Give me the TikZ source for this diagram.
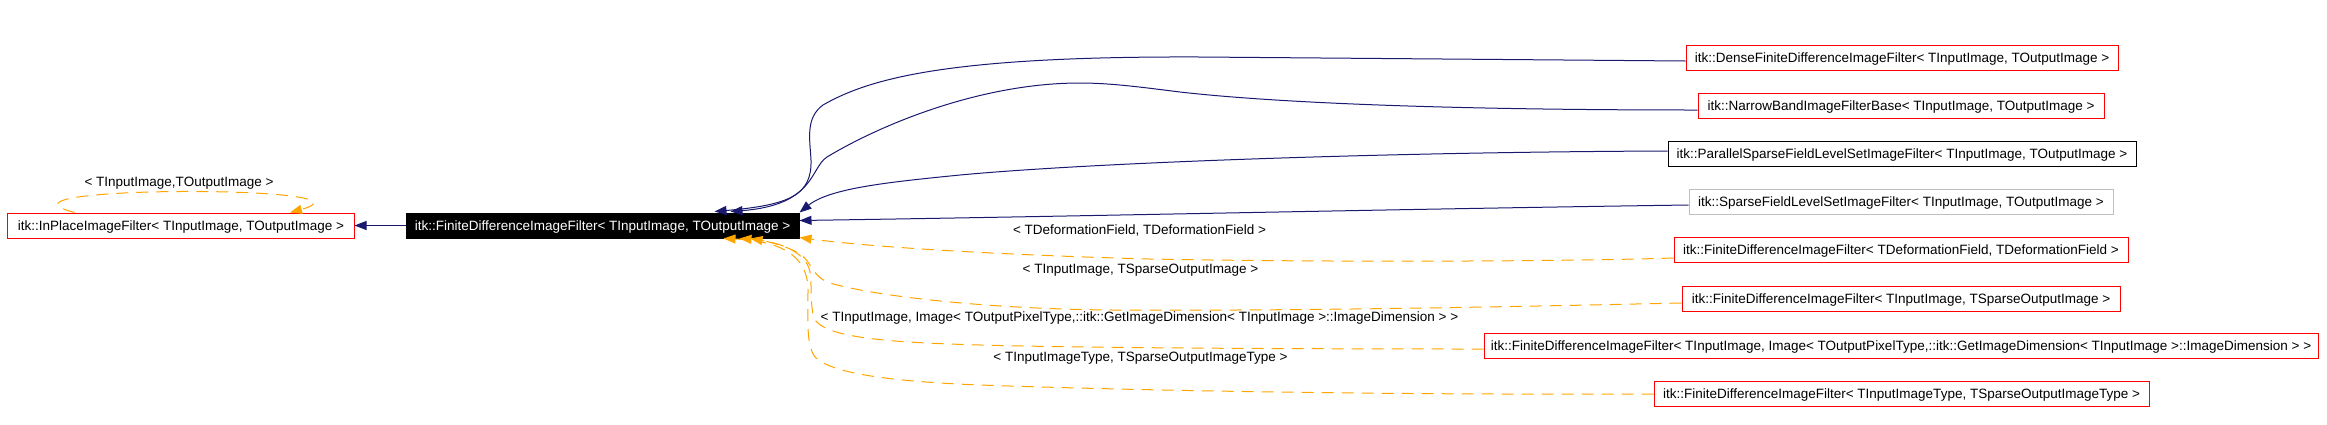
\documentclass[tikz,border=0pt]{standalone}
\usepackage{fontspec}
\setmainfont{Liberation Sans}
\usetikzlibrary{arrows.meta}
\definecolor{navyedge}{HTML}{191970}
\definecolor{orangeedge}{HTML}{FFA500}
\definecolor{grayborder}{HTML}{BFBFBF}
\begin{document}
\begin{tikzpicture}[x=1bp,y=-1bp,
  box/.style={draw=red, line width=1bp, minimum height=25bp, inner sep=0pt,
    text height=9.7bp, text depth=0bp, font=\fontsize{13.5bp}{16bp}\selectfont, anchor=center},
  lbl/.style={inner sep=0pt, text height=9.7bp, text depth=0bp,
    font=\fontsize{13.5bp}{16bp}\selectfont, anchor=center},
  inh/.style={draw=navyedge, line width=1bp, -{Triangle[length=12bp,width=9bp]}},
  tmpl/.style={draw=orangeedge, line width=1bp, dash pattern=on 12bp off 8bp,
    -{Triangle[length=12bp,width=9bp]}}
]
\useasboundingbox (0,0) rectangle (2327,424);

% nodes
\node[box, minimum width=346bp] (inplace) at (181,225.5)
  {itk::InPlaceImageFilter< TInputImage, TOutputImage >};
\node[box, fill=black, draw=black, text=white, minimum width=393bp] (main) at (602.5,225.5)
  {itk::FiniteDifferenceImageFilter< TInputImage, TOutputImage >};
\node[box, minimum width=432bp] (dense) at (1902,58)
  {itk::DenseFiniteDifferenceImageFilter< TInputImage, TOutputImage >};
\node[box, minimum width=406bp] (narrow) at (1901,105.5)
  {itk::NarrowBandImageFilterBase< TInputImage, TOutputImage >};
\node[box, draw=black, minimum width=468bp] (parallel) at (1902,154)
  {itk::ParallelSparseFieldLevelSetImageFilter< TInputImage, TOutputImage >};
\node[box, draw=grayborder, minimum width=424bp] (sparse) at (1901,201.5)
  {itk::SparseFieldLevelSetImageFilter< TInputImage, TOutputImage >};
\node[box, minimum width=454bp] (fdDef) at (1901,249.5)
  {itk::FiniteDifferenceImageFilter< TDeformationField, TDeformationField >};
\node[box, minimum width=438bp] (fdSparse) at (1901,298.5)
  {itk::FiniteDifferenceImageFilter< TInputImage, TSparseOutputImage >};
\node[box, minimum width=834bp] (fdImage) at (1901,345.5)
  {itk::FiniteDifferenceImageFilter< TInputImage, Image< TOutputPixelType,::itk::GetImageDimension< TInputImage >::ImageDimension > >};
\node[box, minimum width=495bp] (fdType) at (1901.5,393.5)
  {itk::FiniteDifferenceImageFilter< TInputImageType, TSparseOutputImageType >};

% edge labels
\node[lbl] (l0) at (179,182) {< TInputImage,TOutputImage >};
\node[lbl] (l1) at (1139.5,230) {< TDeformationField, TDeformationField >};
\node[lbl] (l2) at (1140.5,269) {< TInputImage, TSparseOutputImage >};
\node[lbl] (l3) at (1139.5,317) {< TInputImage, Image< TOutputPixelType,::itk::GetImageDimension< TInputImage >::ImageDimension > >};
\node[lbl] (l4) at (1140.5,357) {< TInputImageType, TSparseOutputImageType >};

% inheritance edges
\draw[inh] (main.west) -- (inplace.east);
\draw[inh] ([yshift=-3bp]dense.west) -- (1200,57)
  .. controls (950,56) and (870,78) .. (823,105)
  .. controls (805,118) and (810,140) .. (811,160)
  .. controls (812,195) and (790,205) .. ([xshift=-85bp,yshift=1bp]main.north east);
\draw[inh] ([yshift=-4.5bp]narrow.west)
  .. controls (1400,110) and (1250,100) .. (1180,92)
  .. controls (1140,87) and (1110,83) .. (1080,83)
  .. controls (980,83) and (880,125) .. (827,157)
  .. controls (810,168) and (815,205) .. ([xshift=-69bp,yshift=1bp]main.north east);
\draw[inh] ([yshift=3bp]parallel.west)
  .. controls (1400,152) and (1100,162) .. (960,175)
  .. controls (890,182) and (830,188) .. (main.north east);
\draw[inh] ([yshift=-3.5bp]sparse.west)
  .. controls (1400,209) and (1100,216) .. ([yshift=5bp]main.east);

% template edges
\draw[tmpl] ([xshift=67bp]inplace.north west)
  .. controls (-30,185) and (390,185) .. ([xshift=109bp]inplace.north);
\draw[tmpl] ([yshift=-8.5bp]fdDef.west)
  .. controls (1550,262) and (1300,262) .. (1150,259)
  .. controls (1000,255) and (870,247) .. ([yshift=1bp]main.south east);
\draw[tmpl] ([yshift=-4.5bp]fdSparse.west)
  .. controls (1500,307) and (1300,311) .. (1113,310)
  .. controls (980,309) and (870,295) .. (830,283)
  .. controls (812,277) and (812,262) .. (800,254)
  .. controls (785,245) and (765,241) .. ([xshift=-49bp]main.south east);
\draw[tmpl] ([yshift=-3.5bp]fdImage.west)
  .. controls (1300,349) and (1050,348) .. (950,344)
  .. controls (870,341) and (822,335) .. (814,318)
  .. controls (810,305) and (812,285) .. (810,272)
  .. controls (806,250) and (775,241) .. ([xshift=-60bp]main.south east);
\draw[tmpl] ([yshift=-0.5bp]fdType.west)
  .. controls (1400,395) and (1150,391) .. (980,385)
  .. controls (880,381) and (830,372) .. (815,357)
  .. controls (806,345) and (808,320) .. (808,290)
  .. controls (808,255) and (780,241) .. ([xshift=-76bp]main.south east);
\end{tikzpicture}
\end{document}
